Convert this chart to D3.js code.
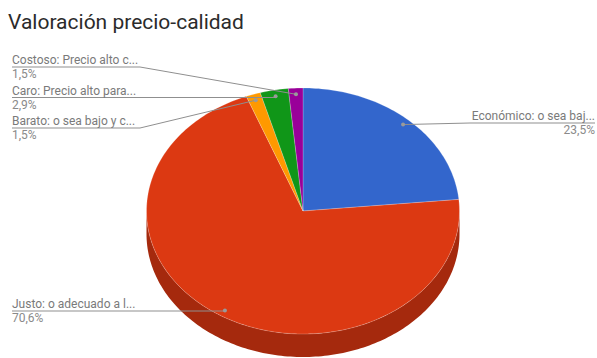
<!DOCTYPE html>
<html>
<head>
<meta charset="utf-8">
<script src="https://cdn.jsdelivr.net/npm/d3@7"></script>
<style>
  html, body { margin: 0; padding: 0; background: #fff; }
  svg { display: block; font-family: Roboto, "Noto Sans", sans-serif; }
</style>
</head>
<body>
<svg id="chart" width="597" height="358"></svg>
<script>
// Survey answers for value-for-money rating, in drawing order (clockwise from 12 o'clock)
const categories = [
  "Económico: o sea bajo y con calidad",
  "Justo: o adecuado a la calidad",
  "Barato: o sea bajo y con poca calidad",
  "Caro: Precio alto para la calidad",
  "Costoso: Precio alto con calidad"
];
const shortLabels = [
  "Económico: o sea baj...",
  "Justo: o adecuado a l...",
  "Barato: o sea bajo y c...",
  "Caro: Precio alto para...",
  "Costoso: Precio alto c..."
];
const values = [23.5, 70.6, 1.5, 2.9, 1.5];
const pctLabels = ["23,5%", "70,6%", "1,5%", "2,9%", "1,5%"];
const topColors = ["#3366cc", "#dc3912", "#ff9900", "#109618", "#990099"];
const sideColors = ["#264d99", "#a5290d", "#bf7300", "#0c7012", "#730073"];

const svg = d3.select("#chart");

// Title
svg.append("text")
  .attr("x", 8).attr("y", 29)
  .attr("font-size", 21)
  .attr("fill", "#2b2b2b")
  .text("Valoración precio-calidad");

// Tilted pie geometry
const cx = 303, cy = 211, rx = 156.5, ry = 123, depth = 23;

const pie = d3.pie().sort(null).value(d => d)(values);

// map an angle (clockwise from 12 o'clock) and radius fraction to screen position
function pt(a, f = 1, dy = 0) {
  return [cx + rx * f * Math.sin(a), cy - ry * f * Math.cos(a) + dy];
}

function arcPts(a0, a1, dy) {
  const n = Math.max(2, Math.ceil(Math.abs(a1 - a0) / 0.02));
  const pts = [];
  for (let i = 0; i <= n; i++) pts.push(pt(a0 + (a1 - a0) * i / n, 1, dy));
  return pts;
}

const line = d3.line();

// Side walls: visible only on the front half (angles between PI/2 and 3PI/2)
const sideG = svg.append("g");
pie.forEach((s, i) => {
  const a0 = Math.max(s.startAngle, Math.PI / 2);
  const a1 = Math.min(s.endAngle, 3 * Math.PI / 2);
  if (a1 <= a0) return;
  const top = arcPts(a0, a1, 0);
  const bottom = arcPts(a1, a0, depth);
  sideG.append("path")
    .attr("d", line(top.concat(bottom)) + "Z")
    .attr("fill", sideColors[i]);
});

// Top faces
const topG = svg.append("g");
pie.forEach((s, i) => {
  const pts = [[cx, cy]].concat(arcPts(s.startAngle, s.endAngle, 0));
  topG.append("path")
    .attr("d", line(pts) + "Z")
    .attr("fill", topColors[i])
    .attr("stroke", "rgba(255,255,255,0.35)")
    .attr("stroke-width", 0.6);
});

// Label layout: text side, leader-line height and optional elbow
const labelX = 12, labelRight = 595;
const labelLayout = [
  { side: "right", y: 123, elbow: 470 },
  { side: "left", y: 311, elbow: null },
  { side: "left", y: 128, elbow: 140 },
  { side: "left", y: 97.5, elbow: null },
  { side: "left", y: 67, elbow: 140 }
];

const lblG = svg.append("g");
pie.forEach((s, i) => {
  const L = labelLayout[i];
  const mid = (s.startAngle + s.endAngle) / 2;
  const dot = pt(mid, 0.95);
  let pts;
  if (L.side === "right") {
    pts = [dot, [L.elbow, L.y], [labelRight, L.y]];
  } else if (L.elbow) {
    pts = [dot, [L.elbow, L.y], [labelX, L.y]];
  } else {
    pts = [[dot[0], L.y], [labelX, L.y]];
  }
  lblG.append("path")
    .attr("d", line(pts))
    .attr("fill", "none")
    .attr("stroke", "#8f8f8f")
    .attr("stroke-width", 1);
  lblG.append("circle")
    .attr("cx", dot[0]).attr("cy", dot[1]).attr("r", 2)
    .attr("fill", "#9a9a9a");

  const tx = L.side === "right" ? labelRight : labelX;
  const anchor = L.side === "right" ? "end" : "start";
  lblG.append("text")
    .attr("x", tx).attr("y", L.y - 3)
    .attr("text-anchor", anchor)
    .attr("font-size", 12)
    .attr("fill", "#7a7a7a")
    .text(shortLabels[i]);
  lblG.append("text")
    .attr("x", tx).attr("y", L.y + 11)
    .attr("text-anchor", anchor)
    .attr("font-size", 12)
    .attr("fill", "#8a8a8a")
    .text(pctLabels[i]);
});
</script>
</body>
</html>
